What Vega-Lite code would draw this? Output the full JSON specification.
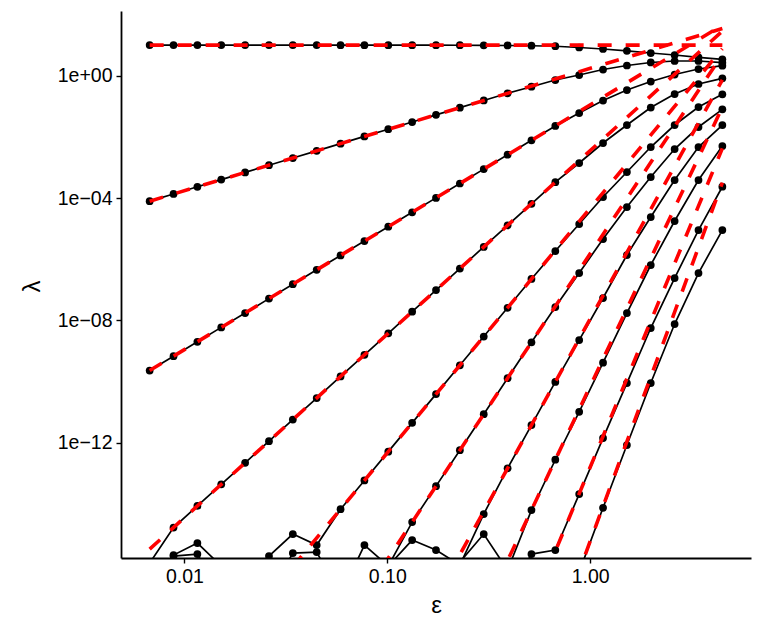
{
  "$schema": "https://vega.github.io/schema/vega-lite/v6.json",
  "width": 630,
  "height": 547,
  "autosize": {"type": "none"},
  "padding": {"left": 121, "top": 11, "right": 12, "bottom": 78},
  "background": "white",
  "config": {
    "view": {"stroke": null},
    "font": "Liberation Sans",
    "axis": {
      "grid": false,
      "domainColor": "black",
      "domainWidth": 1.8,
      "tickColor": "black",
      "tickWidth": 1.4,
      "tickSize": 5,
      "labelColor": "black",
      "labelFont": "Liberation Sans",
      "labelFontSize": 19.5,
      "labelPadding": 4,
      "titleFont": "Liberation Sans",
      "titleFontSize": 24,
      "titleFontWeight": "normal",
      "titleColor": "black"
    }
  },
  "datasets": {
    "black": [
      {"n":0,"eps":0.006738,"lambda":10},{"n":0,"eps":0.008834,"lambda":10},{"n":0,"eps":0.011582,"lambda":10},{"n":0,"eps":0.015184,"lambda":10},{"n":0,"eps":0.019907,"lambda":9.999},{"n":0,"eps":0.0261,"lambda":9.999},{"n":0,"eps":0.034218,"lambda":9.998},{"n":0,"eps":0.044861,"lambda":9.997},{"n":0,"eps":0.058816,"lambda":9.994},{"n":0,"eps":0.077111,"lambda":9.99},{"n":0,"eps":0.101097,"lambda":9.982},{"n":0,"eps":0.132549,"lambda":9.97},{"n":0,"eps":0.173774,"lambda":9.95},{"n":0,"eps":0.22782,"lambda":9.91},{"n":0,"eps":0.298704,"lambda":9.84},{"n":0,"eps":0.391606,"lambda":9.73},{"n":0,"eps":0.513417,"lambda":9.54},{"n":0,"eps":0.673143,"lambda":9.2},{"n":0,"eps":0.882497,"lambda":8.36},{"n":0,"eps":1.156966,"lambda":7.47},{"n":0,"eps":1.516939,"lambda":6.52},{"n":0,"eps":1.988737,"lambda":5.52},{"n":0,"eps":2.607262,"lambda":4.75},{"n":0,"eps":3.41848,"lambda":4.0},{"n":0,"eps":4.481689,"lambda":3.44},
      {"n":1,"eps":0.006738,"lambda":7.89e-5},{"n":1,"eps":0.008834,"lambda":1.356e-4},{"n":1,"eps":0.011582,"lambda":2.331e-4},{"n":1,"eps":0.015184,"lambda":4.006e-4},{"n":1,"eps":0.019907,"lambda":6.887e-4},{"n":1,"eps":0.0261,"lambda":1.184e-3},{"n":1,"eps":0.034218,"lambda":2.035e-3},{"n":1,"eps":0.044861,"lambda":3.498e-3},{"n":1,"eps":0.058816,"lambda":6.012e-3},{"n":1,"eps":0.077111,"lambda":1.0333e-2},{"n":1,"eps":0.101097,"lambda":1.7763e-2},{"n":1,"eps":0.132549,"lambda":3.0533e-2},{"n":1,"eps":0.173774,"lambda":5.248e-2},{"n":1,"eps":0.22782,"lambda":9.021e-2},{"n":1,"eps":0.298704,"lambda":0.15505},{"n":1,"eps":0.391606,"lambda":0.2666},{"n":1,"eps":0.513417,"lambda":0.4365},{"n":1,"eps":0.673143,"lambda":0.7234},{"n":1,"eps":0.882497,"lambda":1.054},{"n":1,"eps":1.156966,"lambda":1.595},{"n":1,"eps":1.516939,"lambda":2.156},{"n":1,"eps":1.988737,"lambda":2.703},{"n":1,"eps":2.607262,"lambda":3.025},{"n":1,"eps":3.41848,"lambda":3.025},{"n":1,"eps":4.481689,"lambda":2.662},
      {"n":2,"eps":0.006738,"lambda":2.286e-10},{"n":2,"eps":0.008834,"lambda":6.753e-10},{"n":2,"eps":0.011582,"lambda":1.995e-9},{"n":2,"eps":0.015184,"lambda":5.896e-9},{"n":2,"eps":0.019907,"lambda":1.742e-8},{"n":2,"eps":0.0261,"lambda":5.146e-8},{"n":2,"eps":0.034218,"lambda":1.5205e-7},{"n":2,"eps":0.044861,"lambda":4.493e-7},{"n":2,"eps":0.058816,"lambda":1.3274e-6},{"n":2,"eps":0.077111,"lambda":3.922e-6},{"n":2,"eps":0.101097,"lambda":1.1588e-5},{"n":2,"eps":0.132549,"lambda":3.4234e-5},{"n":2,"eps":0.173774,"lambda":1.0113e-4},{"n":2,"eps":0.22782,"lambda":2.988e-4},{"n":2,"eps":0.298704,"lambda":8.828e-4},{"n":2,"eps":0.391606,"lambda":2.6086e-3},{"n":2,"eps":0.513417,"lambda":7.702e-3},{"n":2,"eps":0.673143,"lambda":2.2767e-2},{"n":2,"eps":0.882497,"lambda":6.031e-2},{"n":2,"eps":1.156966,"lambda":0.1545},{"n":2,"eps":1.516939,"lambda":0.3406},{"n":2,"eps":1.988737,"lambda":0.6461},{"n":2,"eps":2.607262,"lambda":1.0945},{"n":2,"eps":3.41848,"lambda":1.656},{"n":2,"eps":4.481689,"lambda":2.123},
      {"n":3,"eps":0.006738,"lambda":1.16e-16},{"n":3,"eps":0.008834,"lambda":1.686e-15},{"n":3,"eps":0.011582,"lambda":8.56e-15},{"n":3,"eps":0.015184,"lambda":4.346e-14},{"n":3,"eps":0.019907,"lambda":2.208e-13},{"n":3,"eps":0.0261,"lambda":1.1215e-12},{"n":3,"eps":0.034218,"lambda":5.695e-12},{"n":3,"eps":0.044861,"lambda":2.892e-11},{"n":3,"eps":0.058816,"lambda":1.4689e-10},{"n":3,"eps":0.077111,"lambda":7.459e-10},{"n":3,"eps":0.101097,"lambda":3.789e-9},{"n":3,"eps":0.132549,"lambda":1.9241e-8},{"n":3,"eps":0.173774,"lambda":9.77e-8},{"n":3,"eps":0.22782,"lambda":4.962e-7},{"n":3,"eps":0.298704,"lambda":2.5197e-6},{"n":3,"eps":0.391606,"lambda":1.2794e-5},{"n":3,"eps":0.513417,"lambda":6.499e-5},{"n":3,"eps":0.673143,"lambda":3.3e-4},{"n":3,"eps":0.882497,"lambda":1.3973e-3},{"n":3,"eps":1.156966,"lambda":6.297e-3},{"n":3,"eps":1.516939,"lambda":2.442e-2},{"n":3,"eps":1.988737,"lambda":9.124e-2},{"n":3,"eps":2.607262,"lambda":0.2521},{"n":3,"eps":3.41848,"lambda":0.5354},{"n":3,"eps":4.481689,"lambda":0.8222},
      {"n":4,"eps":0.006738,"lambda":1e-17},{"n":4,"eps":0.008834,"lambda":2.123e-16},{"n":4,"eps":0.011582,"lambda":5.24e-16},{"n":4,"eps":0.015184,"lambda":9.27e-17},{"n":4,"eps":0.019907,"lambda":1e-17},{"n":4,"eps":0.0261,"lambda":1.968e-16},{"n":4,"eps":0.034218,"lambda":1.03e-15},{"n":4,"eps":0.044861,"lambda":4.5e-16},{"n":4,"eps":0.058816,"lambda":6.7e-15},{"n":4,"eps":0.077111,"lambda":5.848e-14},{"n":4,"eps":0.101097,"lambda":5.104e-13},{"n":4,"eps":0.132549,"lambda":4.456e-12},{"n":4,"eps":0.173774,"lambda":3.89e-11},{"n":4,"eps":0.22782,"lambda":3.395e-10},{"n":4,"eps":0.298704,"lambda":2.964e-9},{"n":4,"eps":0.391606,"lambda":2.5866e-8},{"n":4,"eps":0.513417,"lambda":2.2578e-7},{"n":4,"eps":0.673143,"lambda":1.8516e-6},{"n":4,"eps":0.882497,"lambda":1.4138e-5},{"n":4,"eps":1.156966,"lambda":1.0799e-4},{"n":4,"eps":1.516939,"lambda":7.095e-4},{"n":4,"eps":1.988737,"lambda":4.661e-3},{"n":4,"eps":2.607262,"lambda":2.442e-2},{"n":4,"eps":3.41848,"lambda":9.473e-2},{"n":4,"eps":4.481689,"lambda":0.2465},
      {"n":5,"eps":0.006738,"lambda":1e-17},{"n":5,"eps":0.008834,"lambda":1.968e-16},{"n":5,"eps":0.011582,"lambda":2.29e-16},{"n":5,"eps":0.015184,"lambda":1e-17},{"n":5,"eps":0.019907,"lambda":1e-17},{"n":5,"eps":0.0261,"lambda":1e-17},{"n":5,"eps":0.034218,"lambda":2.466e-16},{"n":5,"eps":0.044861,"lambda":2.656e-16},{"n":5,"eps":0.058816,"lambda":1e-17},{"n":5,"eps":0.077111,"lambda":4.5e-16},{"n":5,"eps":0.101097,"lambda":9.27e-17},{"n":5,"eps":0.132549,"lambda":2.533e-15},{"n":5,"eps":0.173774,"lambda":3.799e-14},{"n":5,"eps":0.22782,"lambda":5.702e-13},{"n":5,"eps":0.298704,"lambda":8.553e-12},{"n":5,"eps":0.391606,"lambda":1.2835e-10},{"n":5,"eps":0.513417,"lambda":1.9256e-9},{"n":5,"eps":0.673143,"lambda":2.73e-8},{"n":5,"eps":0.882497,"lambda":3.532e-7},{"n":5,"eps":1.156966,"lambda":4.569e-6},{"n":5,"eps":1.516939,"lambda":5.086e-5},{"n":5,"eps":1.988737,"lambda":4.867e-4},{"n":5,"eps":2.607262,"lambda":4.009e-3},{"n":5,"eps":3.41848,"lambda":2.101e-2},{"n":5,"eps":4.481689,"lambda":7.963e-2},
      {"n":6,"eps":0.006738,"lambda":1e-17},{"n":6,"eps":0.008834,"lambda":1e-17},{"n":6,"eps":0.011582,"lambda":1e-17},{"n":6,"eps":0.015184,"lambda":1e-17},{"n":6,"eps":0.019907,"lambda":1e-17},{"n":6,"eps":0.0261,"lambda":1e-17},{"n":6,"eps":0.034218,"lambda":1e-17},{"n":6,"eps":0.044861,"lambda":1e-17},{"n":6,"eps":0.058816,"lambda":1e-17},{"n":6,"eps":0.077111,"lambda":1e-17},{"n":6,"eps":0.101097,"lambda":9.27e-17},{"n":6,"eps":0.132549,"lambda":6.56e-16},{"n":6,"eps":0.173774,"lambda":3.09e-16},{"n":6,"eps":0.22782,"lambda":1.0e-16},{"n":6,"eps":0.298704,"lambda":4.645e-15},{"n":6,"eps":0.391606,"lambda":1.459e-13},{"n":6,"eps":0.513417,"lambda":3.763e-12},{"n":6,"eps":0.673143,"lambda":9.707e-11},{"n":6,"eps":0.882497,"lambda":2.273e-9},{"n":6,"eps":1.156966,"lambda":5.373e-8},{"n":6,"eps":1.516939,"lambda":1.3691e-6},{"n":6,"eps":1.988737,"lambda":2.394e-5},{"n":6,"eps":2.607262,"lambda":3.885e-4},{"n":6,"eps":3.41848,"lambda":4.661e-3},{"n":6,"eps":4.481689,"lambda":2.442e-2},
      {"n":7,"eps":0.006738,"lambda":1e-17},{"n":7,"eps":0.008834,"lambda":1e-17},{"n":7,"eps":0.011582,"lambda":1e-17},{"n":7,"eps":0.015184,"lambda":1e-17},{"n":7,"eps":0.019907,"lambda":1e-17},{"n":7,"eps":0.0261,"lambda":1e-17},{"n":7,"eps":0.034218,"lambda":1e-17},{"n":7,"eps":0.044861,"lambda":1e-17},{"n":7,"eps":0.058816,"lambda":1e-17},{"n":7,"eps":0.077111,"lambda":1e-17},{"n":7,"eps":0.101097,"lambda":1e-17},{"n":7,"eps":0.132549,"lambda":1e-17},{"n":7,"eps":0.173774,"lambda":1e-17},{"n":7,"eps":0.22782,"lambda":1.25e-16},{"n":7,"eps":0.298704,"lambda":1.03e-15},{"n":7,"eps":0.391606,"lambda":6.86e-17},{"n":7,"eps":0.513417,"lambda":6.257e-15},{"n":7,"eps":0.673143,"lambda":2.775e-13},{"n":7,"eps":0.882497,"lambda":1.028e-11},{"n":7,"eps":1.156966,"lambda":4.12e-10},{"n":7,"eps":1.516939,"lambda":1.738e-8},{"n":7,"eps":1.988737,"lambda":6.46e-7},{"n":7,"eps":2.607262,"lambda":1.773e-5},{"n":7,"eps":3.41848,"lambda":3.885e-4},{"n":7,"eps":4.481689,"lambda":5.02e-3},
      {"n":8,"eps":0.006738,"lambda":1e-17},{"n":8,"eps":0.008834,"lambda":1e-17},{"n":8,"eps":0.011582,"lambda":1e-17},{"n":8,"eps":0.015184,"lambda":1e-17},{"n":8,"eps":0.019907,"lambda":1e-17},{"n":8,"eps":0.0261,"lambda":1e-17},{"n":8,"eps":0.034218,"lambda":1e-17},{"n":8,"eps":0.044861,"lambda":1e-17},{"n":8,"eps":0.058816,"lambda":1e-17},{"n":8,"eps":0.077111,"lambda":1e-17},{"n":8,"eps":0.101097,"lambda":1e-17},{"n":8,"eps":0.132549,"lambda":1e-17},{"n":8,"eps":0.173774,"lambda":1e-17},{"n":8,"eps":0.22782,"lambda":1e-17},{"n":8,"eps":0.298704,"lambda":1e-17},{"n":8,"eps":0.391606,"lambda":1e-17},{"n":8,"eps":0.513417,"lambda":2.29e-16},{"n":8,"eps":0.673143,"lambda":3.09e-16},{"n":8,"eps":0.882497,"lambda":2.094e-14},{"n":8,"eps":1.156966,"lambda":1.419e-12},{"n":8,"eps":1.516939,"lambda":8.93e-11},{"n":8,"eps":1.988737,"lambda":5.62e-9},{"n":8,"eps":2.607262,"lambda":2.427e-7},{"n":8,"eps":3.41848,"lambda":8.99e-6},{"n":8,"eps":4.481689,"lambda":2.344e-4},
      {"n":9,"eps":0.006738,"lambda":1e-17},{"n":9,"eps":0.008834,"lambda":1e-17},{"n":9,"eps":0.011582,"lambda":1e-17},{"n":9,"eps":0.015184,"lambda":1e-17},{"n":9,"eps":0.019907,"lambda":1e-17},{"n":9,"eps":0.0261,"lambda":1e-17},{"n":9,"eps":0.034218,"lambda":1e-17},{"n":9,"eps":0.044861,"lambda":1e-17},{"n":9,"eps":0.058816,"lambda":1e-17},{"n":9,"eps":0.077111,"lambda":1e-17},{"n":9,"eps":0.101097,"lambda":1e-17},{"n":9,"eps":0.132549,"lambda":1e-17},{"n":9,"eps":0.173774,"lambda":1e-17},{"n":9,"eps":0.22782,"lambda":1e-17},{"n":9,"eps":0.298704,"lambda":1e-17},{"n":9,"eps":0.391606,"lambda":1e-17},{"n":9,"eps":0.513417,"lambda":1e-17},{"n":9,"eps":0.673143,"lambda":1e-17},{"n":9,"eps":0.882497,"lambda":5.9e-17},{"n":9,"eps":1.156966,"lambda":7.46e-15},{"n":9,"eps":1.516939,"lambda":8.39e-13},{"n":9,"eps":1.988737,"lambda":8.93e-11},{"n":9,"eps":2.607262,"lambda":7.6e-9},{"n":9,"eps":3.41848,"lambda":3.53e-7},{"n":9,"eps":4.481689,"lambda":8.99e-6}
    ],
    "red": [
      {"n":0,"eps":0.006738,"lambda":10},{"n":0,"eps":4.481689,"lambda":10},
      {"n":1,"eps":0.006738,"lambda":7.89e-5},{"n":1,"eps":4.481689,"lambda":34.9},
      {"n":2,"eps":0.006738,"lambda":2.286e-10},{"n":2,"eps":4.481689,"lambda":44.75},
      {"n":3,"eps":0.006738,"lambda":3.32e-16},{"n":3,"eps":4.481689,"lambda":28.74},
      {"n":4,"eps":0.006738,"lambda":1.987e-22},{"n":4,"eps":4.481689,"lambda":7.611},
      {"n":5,"eps":0.006738,"lambda":2.92e-28},{"n":5,"eps":4.481689,"lambda":4.947},
      {"n":6,"eps":0.006738,"lambda":9.83e-35},{"n":6,"eps":4.481689,"lambda":0.7364},
      {"n":7,"eps":0.006738,"lambda":2.81e-41},{"n":7,"eps":4.481689,"lambda":0.09333},
      {"n":8,"eps":0.006738,"lambda":2.86e-48},{"n":8,"eps":4.481689,"lambda":4.195e-3},
      {"n":9,"eps":0.006738,"lambda":4.94e-55},{"n":9,"eps":4.481689,"lambda":3.203e-4}
    ]
  },
  "encoding": {
    "x": {
      "field": "eps",
      "type": "quantitative",
      "scale": {"type": "log", "domain": [0.004867, 6.2035], "nice": false},
      "axis": {"title": "ε", "values": [0.01, 0.1, 1], "format": ".2f", "titleBaseline": "alphabetic", "titleY": 54}
    },
    "y": {
      "field": "lambda",
      "type": "quantitative",
      "scale": {"type": "log", "domain": [1.7e-16, 130.5], "nice": false},
      "axis": {
        "title": "λ",
        "values": [1e-12, 1e-8, 1e-4, 1],
        "labelExpr": "'1e' + (datum.value >= 0.5 ? '+' : '\u2212') + pad(toString(round(abs(log(datum.value) / LN10))), 2, '0', 'left')",
        "titleAngle": 270,
        "titleBaseline": "alphabetic",
        "titleX": -82,
        "titleY": 275
      }
    }
  },
  "layer": [
    {
      "data": {"name": "black"},
      "mark": {"type": "line", "color": "black", "strokeWidth": 1.7, "clip": true},
      "encoding": {"detail": {"field": "n", "type": "nominal"}}
    },
    {
      "data": {"name": "black"},
      "mark": {"type": "point", "shape": "circle", "filled": true, "color": "black", "opacity": 1, "size": 60, "clip": true},
      "encoding": {}
    },
    {
      "data": {"name": "red"},
      "mark": {"type": "line", "color": "#ff0000", "strokeWidth": 3.6, "strokeDash": [14, 14], "clip": true},
      "encoding": {"detail": {"field": "n", "type": "nominal"}}
    }
  ]
}
